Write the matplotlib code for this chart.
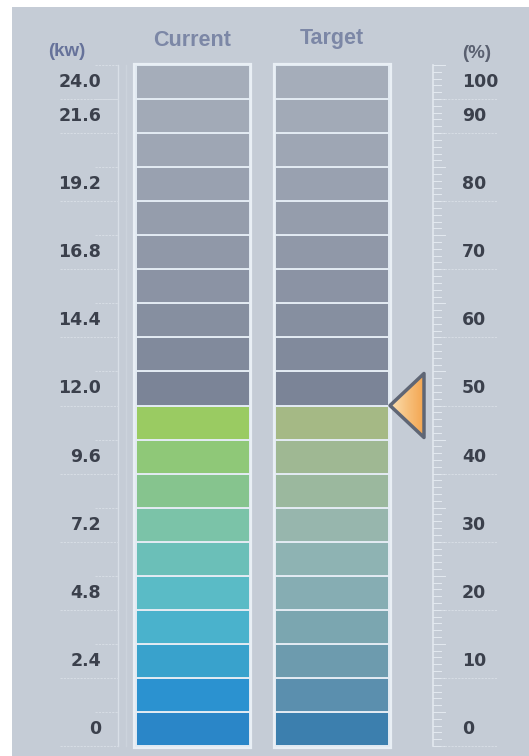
import numpy as np
import matplotlib
matplotlib.use("Agg")
import matplotlib.pyplot as plt
from matplotlib.patches import Rectangle, Polygon
from matplotlib.colors import LinearSegmentedColormap

# escala de potencia (kW) y porcentaje
seg_kw = 1.2
n_seg = 20
kw_labels = ['0', '2.4', '4.8', '7.2', '9.6', '12.0', '14.4', '16.8', '19.2', '21.6', '24.0']
kw_label_seg = [0, 2, 4, 6, 8, 10, 12, 14, 16, 18, 19]
pct_labels = ['0', '10', '20', '30', '40', '50', '60', '70', '80', '90', '100']

current_kw = 12.0
target_pct = 50

# colores de los segmentos encendidos (de abajo hacia arriba)
colores_current = ['#2a86c8', '#2b92d0', '#39a2cc', '#4ab2cc', '#5abbc6',
                   '#6bbfb8', '#7bc3a8', '#86c48e', '#8fc878', '#9acb62']
colores_target = ['#3c7fae', '#5b8fae', '#6d9bae', '#7ba6b0', '#86adb3',
                  '#8eb3b3', '#97b6ad', '#9bb89e', '#9fb893', '#a5b985']
# segmentos apagados
colores_gris = ['#7b8497', '#818a9c', '#868fa0', '#8b93a4', '#9098a8',
                '#959dac', '#99a1b0', '#9ea6b4', '#a2aab7', '#a5adba']

fig = plt.figure(figsize=(5.29, 7.56), dpi=100)
fig.patch.set_facecolor('white')
ax = fig.add_axes([0, 0, 1, 1])
ax.set_xlim(0, 529)
px_kw = 681 / 24.0
ax.set_ylim(-10 / px_kw, 24 + 65 / px_kw)
ax.axis('off')

# fondo del panel
ax.add_patch(Rectangle((12, -10 / px_kw), 517, 24 + 58 / px_kw + 10 / px_kw,
                       facecolor='#c5ccd6', edgecolor='none', zorder=0))

def dibujar_columna(xc, ancho, n_on, encendidos):
    for i in range(n_seg):
        if i < n_on:
            c = encendidos[i]
        else:
            c = colores_gris[min(i - n_on, len(colores_gris) - 1)]
        ax.bar(xc, seg_kw, bottom=i * seg_kw, width=ancho, color=c,
               edgecolor='#e3ebf3', linewidth=1.4, zorder=3)
    ax.add_patch(Rectangle((xc - ancho / 2 - 1.5, -1.5 / px_kw), ancho + 3, 24 + 3 / px_kw,
                           facecolor='none', edgecolor='#e9eff5', linewidth=1.6, zorder=4))

n_current = int(round(current_kw / seg_kw))
n_target = int(round(target_pct / 100 * n_seg))
dibujar_columna(192.5, 114, n_current, colores_current)
dibujar_columna(332, 114, n_target, colores_target)

fuente_num = dict(fontsize=12.5, fontweight='bold', family=['DejaVu Sans'],
                  color='#3b404c', zorder=5)
fuente_tit = dict(fontweight='bold', family=['Liberation Sans', 'DejaVu Sans'])
linea_guia = dict(color='#d6dce4', lw=0.8, ls=(0, (2, 1)), zorder=1)

# eje izquierdo
ax.plot([118, 118], [0, 24], color='#d9dfe7', lw=1, zorder=1)
ax.plot([126, 126], [0, 24], color='#ccd3dc', lw=1, zorder=1)
for lab, s in zip(kw_labels, kw_label_seg):
    yc = (s + 0.5) * seg_kw
    ax.text(101, yc, lab, ha='right', va='center', **fuente_num)
    ax.plot([60, 118], [s * seg_kw, s * seg_kw], **linea_guia)
    ax.plot([95, 118], [(s + 1) * seg_kw, (s + 1) * seg_kw], **linea_guia)

# regla derecha
ax.plot([433, 433], [0, 24], color='#e2e8ef', lw=1.2, zorder=1)
for k in range(101):
    y = k / 100 * 24
    largo = 445 if k % 5 == 0 else 441
    ax.plot([433, largo], [y, y], color='#e3e9f0', lw=0.7, zorder=1)
for lab, s in zip(pct_labels, kw_label_seg):
    yc = (s + 0.5) * seg_kw
    ax.text(462, yc, lab, ha='left', va='center', **fuente_num)
    ax.plot([441, 497], [s * seg_kw, s * seg_kw], **linea_guia)

# encabezados
ax.text(192, 24 + 25 / px_kw, 'Current', ha='center', va='center', fontsize=15.5,
        color='#7c87a6', **fuente_tit)
ax.text(332, 24 + 27 / px_kw, 'Target', ha='center', va='center', fontsize=15.5,
        color='#7c87a6', **fuente_tit)
ax.text(67, 24 + 14 / px_kw, '(kw)', ha='center', va='center', fontsize=13.5,
        color='#66729a', **fuente_tit)
ax.text(477, 24 + 12 / px_kw, '(%)', ha='center', va='center', fontsize=13.5,
        color='#5a6070', **fuente_tit)

# indicador del objetivo
y_obj = target_pct / 100 * 24
medio = 32 / px_kw
tri = [(390, y_obj), (424, y_obj + medio), (424, y_obj - medio)]
cmap = LinearSegmentedColormap.from_list('naranja', ['#fbe0b4', '#f7c17e', '#f4a651'])
grad = np.linspace(0, 1, 64).reshape(1, -1)
img = ax.imshow(grad, cmap=cmap, extent=(390, 424, y_obj - medio, y_obj + medio),
                aspect='auto', zorder=6)
borde = Polygon(tri, closed=True, facecolor='none', edgecolor='#5f6675',
                linewidth=2.5, joinstyle='round', zorder=7)
ax.add_patch(borde)
img.set_clip_path(Polygon(tri, closed=True, transform=ax.transData))

fig.savefig('out.png', dpi=100)
